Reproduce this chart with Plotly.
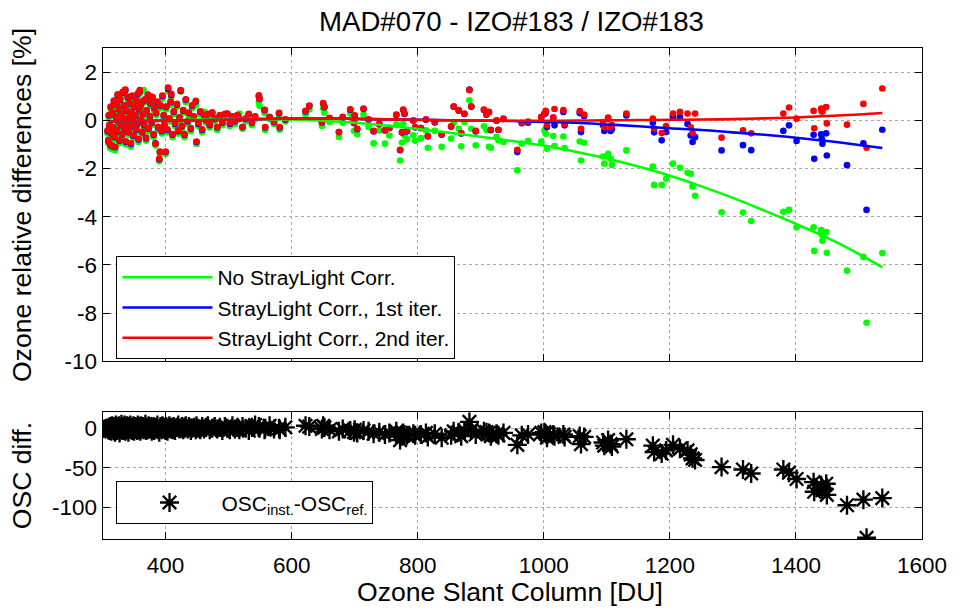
import plotly.graph_objects as go

# ---------------- data ----------------
du_low = [308, 309, 310, 311, 312, 313, 314, 315, 316, 317, 318, 319, 320, 321, 322, 323, 324, 325, 326, 327,
          328, 329, 330, 331, 332, 333, 334, 335, 336, 337, 338, 339, 340, 341, 342, 343, 344, 345, 346, 347,
          348, 349, 350, 352, 353, 354, 355, 356, 357, 358, 359, 360, 361, 363, 364, 365, 366, 368, 369, 370,
          372, 373, 375, 376, 378, 379, 381, 382, 384, 385, 387, 388, 390, 391, 392, 394, 395, 397, 398, 400,
          401, 403, 404, 406, 408, 409, 411, 413, 415, 418, 420, 422, 424, 426, 428, 430, 432, 435, 437, 440,
          442, 445, 448, 449, 452, 455, 458, 461, 464, 467, 470, 474, 478, 482, 486, 490, 494, 498, 502, 506,
          510, 514, 517, 522, 527, 532, 537, 542, 548, 549, 557, 558, 565, 572, 580, 581, 590]
green_low = [-0.55, -0.95, 0.10, -0.30, -1.15, 0.45, -0.65, -1.20, 0.20, -0.40, 0.70, -0.80, -1.25, 0.05, 0.55, -0.55, 0.95, -0.15, 0.35, -0.95,
             0.75, -0.30, 0.15, -0.70, 1.05, -0.05, 0.50, -0.45, 1.15, -1.00, 0.30, -0.20, 0.85, -0.60, 0.00, 0.60, -0.35, -1.10, 0.20, 0.90,
             -0.15, -0.75, 0.45, 0.10, -0.50, 0.70, -0.25, 1.00, -0.90, 0.35, 1.10, -0.10, 0.55, -0.60, 0.15, 1.25, -0.30, 0.75, -0.85, 0.30,
             0.95, -0.45, 0.05, 0.60, -0.20, 0.85, -0.70, 0.40, -1.05, 0.20, 0.65, -0.40, -1.70, -1.40, 0.50, -0.55, 0.90, 0.10, -0.30, -1.40,
             0.45, -0.50, 1.20, -0.05, 0.65, 0.95, -0.70, 0.25, -0.25, 0.55, -0.55, 0.00, 1.20, -0.35, 0.30, -0.70, 0.75, -0.15, 0.20, -0.45,
             0.50, 0.05, 0.62, -0.98, -0.25, 0.25, -0.50, 0.35, -0.10, 0.15, -0.30, 0.20, -0.05, -0.40, 0.10, -0.20, 0.15, 0.20, -0.25, 0.05,
             -0.15, 0.15, 0.28, -0.35, -0.05, 0.15, -0.20, 0.05, 0.76, 0.60, 0.30, -0.40, 0.05, -0.15, 0.20, -0.39, -0.05]
blue_low = [-0.45, -0.85, 0.20, -0.20, -1.02, 0.55, -0.55, -1.08, 0.30, -0.30, 0.80, -0.70, -1.12, 0.15, 0.65, -0.45, 1.05, -0.05, 0.45, -0.85,
            0.85, -0.20, 0.25, -0.60, 1.15, 0.05, 0.60, -0.35, 1.25, -0.90, 0.40, -0.10, 0.95, -0.50, 0.10, 0.70, -0.25, -0.98, 0.30, 1.00,
            -0.05, -0.65, 0.55, 0.20, -0.40, 0.80, -0.15, 1.10, -0.80, 0.45, 1.20, 0.00, 0.65, -0.50, 0.25, 0.80, -0.20, 0.85, -0.75, 0.40,
            1.05, -0.35, 0.15, 0.70, -0.10, 0.95, -0.60, 0.50, -0.95, 0.30, 0.75, -0.30, -1.62, -1.32, 0.60, -0.45, 1.00, 0.20, -0.20, -1.32,
            0.55, -0.40, 1.30, 0.05, 0.75, 1.05, -0.60, 0.35, -0.15, 0.65, -0.45, 0.10, 1.22, -0.25, 0.40, -0.60, 0.85, -0.05, 0.30, -0.35,
            0.60, 0.15, 0.78, -0.90, -0.15, 0.35, -0.40, 0.20, 0.00, 0.25, -0.20, 0.30, 0.05, -0.30, 0.20, -0.10, 0.25, 0.27, -0.15, 0.15,
            -0.05, 0.20, 0.05, -0.28, 0.05, 0.25, -0.10, 0.15, 1.00, 0.88, 0.42, -0.30, 0.12, -0.08, 0.29, -0.30, 0.02]
red_low = [-0.42, -0.82, 0.22, -0.18, -1.00, 0.57, -0.52, -1.05, 0.32, -0.28, 0.82, -0.67, -1.10, 0.17, 0.68, -0.42, 1.08, -0.03, 0.48, -0.82,
           0.88, -0.18, 0.28, -0.57, 1.18, 0.08, 0.62, -0.32, 1.28, -0.87, 0.42, -0.08, 0.98, -0.47, 0.12, 0.72, -0.22, -0.95, 0.33, 1.03,
           -0.02, -0.62, 0.58, 0.22, -0.37, 0.83, -0.12, 1.12, -0.77, 0.48, 1.25, 0.03, 0.67, -0.47, 0.27, 0.82, -0.17, 0.88, -0.72, 0.42,
           1.07, -0.32, 0.18, 0.73, -0.07, 0.97, -0.57, 0.52, -0.97, 0.32, 0.78, -0.27, -1.60, -1.30, 0.62, -0.42, 1.03, 0.22, -0.18, -1.30,
           0.57, -0.37, 1.36, 0.08, 0.78, 1.10, -0.57, 0.37, -0.12, 0.68, -0.42, 0.12, 1.25, -0.22, 0.42, -0.57, 0.87, -0.02, 0.32, -0.32,
           0.62, 0.17, 0.81, -0.88, -0.12, 0.37, -0.37, 0.22, 0.02, 0.27, -0.17, 0.33, 0.07, -0.28, 0.22, -0.07, 0.27, 0.28, -0.12, 0.17,
           -0.03, 0.22, 0.07, -0.28, 0.08, 0.27, -0.08, 0.17, 1.04, 0.90, 0.44, -0.28, 0.14, -0.06, 0.31, -0.28, 0.04]
osc_low = [0, -2, 1, -3, 2, 0, -4, 3, -1, 2, -2, 1, -5, 4, 0, -3, 2, -1, 3, -6,
           1, -2, 5, 0, -3, 2, -1, 4, -4, 1, -2, 3, 0, -5, 2, -1, 4, -2, 1, -3,
           0, 3, -4, 2, -1, 1, -3, 4, 0, -2, 1, -4, 3, -1, 2, -2, 0, 5, -3, 1,
           -2, 3, -1, 2, -4, 0, 2, -3, 1, -1, 4, -2, -5, 0, 2, -2, 3, -1, 1, -3,
           2, -4, 0, 3, -1, 1, -2, 2, -3, 1, 4, -1, 0, 2, -2, 1, 3, -1, 2, -3,
           0, 1, -2, 3, 0, -2, 2, -1, 1, 3, -2, 0, 2, -1, 1, -3, 2, 0, -2, 3,
           -1, 1, -2, 2, 0, -3, 1, 4, 2, 0, -2, 0, 3, -1, 0, -2, 1]

du_mid = [622, 628, 648, 650, 652, 660, 675, 681, 693, 699, 700, 704, 714, 722, 730, 739, 748, 755, 766, 772,
          775, 777, 779, 783, 793, 796, 805, 813, 816, 827, 838, 853, 857, 865, 869, 874, 882, 885, 892, 905,
          909, 913, 916, 925, 928, 936, 958, 965, 975]
green_mid = [0.24, 0.45, -0.24, 0.50, 0.31, -0.07, -0.69, -0.10, 0.28, -0.44, 0.00, -0.58, 0.24, -0.28, -0.96, -0.42, -0.97, -0.63, -0.17, -1.67,
             -0.92, -0.14, -0.63, -0.79, -0.62, -0.85, -0.74, -0.42, -1.14, -0.44, -1.10, -0.76, -0.10, -0.35, -1.08, -0.07, 0.83, -0.35, -1.04, -0.25,
             -0.40, -1.10, -1.14, -0.69, -0.83, -0.90, -2.08, -0.97, -0.85]
blue_mid = [0.37, 0.59, -0.09, 0.70, 0.54, 0.08, -0.49, 0.12, 0.44, -0.12, 0.19, -0.37, 0.47, 0.02, -0.46, -0.16, -0.42, -0.33, 0.22, -1.24,
            -0.51, 0.43, 0.26, -0.46, -0.02, -0.30, -0.33, 0.02, -0.67, -0.09, -0.60, -0.27, 0.56, 0.40, -0.55, 0.26, 1.28, 0.56, -0.46, 0.43,
            0.23, 0.33, -0.41, -0.02, -0.40, 0.05, -1.32, -0.12, -0.10]
red_mid = [0.39, 0.61, -0.07, 0.72, 0.56, 0.10, -0.49, 0.14, 0.46, -0.10, 0.21, -0.35, 0.49, 0.04, -0.44, -0.14, -0.40, -0.31, 0.24, -1.22,
           -0.49, 0.45, 0.28, -0.44, 0.00, -0.28, -0.31, 0.04, -0.65, -0.07, -0.58, -0.25, 0.58, 0.42, -0.53, 0.28, 1.25, 0.58, -0.44, 0.45,
           0.25, 0.35, -0.39, 0.00, -0.39, 0.07, -1.22, -0.10, -0.05]
osc_mid = [3, 2, -1, 3, 1, -2, -4, -1, -3, -5, -2, -6, -3, -4, -7, -5, -8, -6, -4, -15,
           -10, -6, -8, -9, -7, -9, -8, -6, -11, -7, -12, -9, -4, -5, -10, -3, 8, -2, -8, -4,
           -5, -6, -10, -7, -9, -6, -21, -9, -8]

du_high = [996, 1001, 1003, 1005, 1015, 1017, 1031, 1033, 1057, 1059, 1064, 1094, 1096, 1102, 1106, 1108, 1131, 1173, 1175, 1187,
           1194, 1205, 1216, 1228, 1233, 1236, 1240, 1282, 1316, 1329, 1380, 1389, 1401, 1428, 1429, 1440, 1441, 1442, 1448, 1449,
           1481, 1507, 1512, 1537]
green_high = [-0.88, -0.42, -0.56, -1.18, -0.65, -1.07, -0.67, -1.15, -0.88, -1.67, -0.93, -1.50, -1.80, -1.39, -1.60, -1.85, -1.25, -1.92, -2.68, -2.68,
              -2.43, -1.80, -1.97, -2.18, -2.22, -2.75, -3.13, -3.82, -3.83, -4.18, -3.80, -3.72, -4.44, -4.44, -5.42, -4.56, -4.75, -5.00, -4.64, -5.50,
              -6.24, -5.67, -8.40, -5.51]
blue_high = [0.12, 0.26, 0.30, -0.28, 0.10, -0.21, 0.35, -0.21, 0.30, -0.49, 0.18, -0.20, -0.44, 0.05, -0.44, -0.36, 0.20, -0.10, -0.50, -0.83,
             -0.49, 0.14, 0.14, -0.15, -0.63, -0.90, -0.70, -1.25, -1.03, -1.24, -0.44, -0.21, -0.86, -0.60, -1.60, -0.58, -0.76, -0.97, -0.54, -1.46,
             -1.86, -0.96, -3.72, -0.39]
red_high = [0.14, 0.28, 0.39, -0.20, 0.12, 0.47, 0.42, -0.15, 0.38, -0.35, 0.24, -0.07, -0.28, 0.11, -0.28, -0.20, 0.28, 0.07, -0.35, -0.53,
            -0.24, 0.28, 0.35, 0.28, -0.29, -0.53, 0.28, -0.72, -0.42, -0.54, 0.28, 0.53, 0.07, 0.39, -0.33, 0.49, 0.37, 0.37, 0.55, -0.13,
            -0.18, 0.68, -1.14, 1.32]
osc_high = [-6, -5, -7, -12, -8, -10, -8, -11, -10, -20, -11, -18, -22, -15, -20, -23, -14, -22, -30, -32,
            -28, -21, -26, -28, -33, -38, -40, -49, -52, -57, -52, -56, -64, -68, -80, -72, -75, -78, -70, -84,
            -97, -90, -138, -88]

# fitted curves
fit_du = [310, 350, 400, 450, 500, 550, 600, 650, 700, 750, 800, 850, 900, 950, 1000, 1050, 1100, 1150, 1200, 1250,
          1300, 1350, 1400, 1450, 1500, 1537]
fit_green = [-0.05, -0.03, 0.00, 0.03, 0.05, 0.05, 0.03, -0.02, -0.10, -0.22, -0.36, -0.52, -0.68, -0.86, -1.05, -1.30, -1.58, -1.92, -2.30, -2.74,
             -3.22, -3.75, -4.30, -4.88, -5.55, -6.10]
fit_blue = [-0.05, -0.03, -0.02, 0.00, 0.02, 0.05, 0.08, 0.08, 0.06, 0.04, 0.02, 0.00, -0.01, -0.03, -0.07, -0.10, -0.17, -0.25, -0.33, -0.40,
            -0.50, -0.60, -0.72, -0.86, -1.02, -1.15]
fit_red = [-0.05, -0.03, -0.02, 0.00, 0.02, 0.05, 0.08, 0.08, 0.06, 0.04, 0.02, 0.00, -0.01, -0.02, -0.02, -0.01, 0.00, 0.01, 0.02, 0.03,
           0.05, 0.08, 0.12, 0.18, 0.24, 0.30]

x_ticks = [400, 600, 800, 1000, 1200, 1400, 1600]
x_ticklabels = ["400", "600", "800", "1000", "1200", "1400", "1600"]
y1_ticks = [2, 0, -2, -4, -6, -8, -10]
y1_ticklabels = ["2", "0", "-2", "-4", "-6", "-8", "-10"]
y2_ticks = [0, -50, -100]
y2_ticklabels = ["0", "-50", "-100"]

series_names = ["No StrayLight Corr.", "StrayLight Corr., 1st iter.", "StrayLight Corr., 2nd iter."]
osc_name = "OSC<sub>inst.</sub>-OSC<sub>ref.</sub>"
title_text = "MAD#070 - IZO#183 / IZO#183"

# ---------------- figure ----------------
du = du_low + du_mid + du_high
green = green_low + green_mid + green_high
blue = blue_low + blue_mid + blue_high
red = red_low + red_mid + red_high
osc = osc_low + osc_mid + osc_high

GREEN, BLUE, RED = "#00FF00", "#0000FF", "#FF0000"
FONT = "Liberation Sans, Arial, Helvetica, sans-serif"

W, H = 954, 610
SX, SY = 0.978, 0.978  # the page is photographed slightly reduced; compensate


def fx(p):
    return p / (W * SX)


def fy(p):
    return 1 - p / (H * SY)


def sz(v):
    return v / 0.978


fig = go.Figure()
for vals, col in [(green, GREEN), (blue, BLUE), (red, RED)]:
    fig.add_trace(go.Scatter(x=du, y=vals, mode="markers", xaxis="x", yaxis="y",
                             marker=dict(color=col, size=sz(6.5), line=dict(width=0)),
                             showlegend=False, hoverinfo="skip"))
for vals, col, nm in [(fit_green, GREEN, series_names[0]), (fit_blue, BLUE, series_names[1]),
                      (fit_red, RED, series_names[2])]:
    fig.add_trace(go.Scatter(x=fit_du, y=vals, mode="lines", line=dict(color=col, width=sz(2.5), shape="spline"),
                             name=nm, xaxis="x", yaxis="y", legend="legend"))

fig.add_trace(go.Scatter(x=du, y=osc, mode="markers", xaxis="x2", yaxis="y2", name=osc_name,
                         marker=dict(symbol="asterisk-open", size=sz(15.5), color="black",
                                     line=dict(color="black", width=sz(2.3))),
                         legend="legend2"))

axis_common = dict(showline=True, linecolor="black", linewidth=1, mirror="ticks", ticks="inside",
                   ticklen=sz(7), tickcolor="black", showgrid=True, gridcolor="#a8a8a8", griddash="dot",
                   gridwidth=1, zeroline=False, tickfont=dict(size=sz(22), color="black", family=FONT))

fig.update_layout(
    width=W, height=H, margin=dict(l=0, r=0, t=0, b=0),
    paper_bgcolor="white", plot_bgcolor="white",
    font=dict(family=FONT, color="black", size=sz(20)),
    xaxis=dict(domain=[fx(103), fx(926)], range=[300, 1600], anchor="y", tickvals=x_ticks,
               showticklabels=False, **axis_common),
    yaxis=dict(domain=[fy(361), fy(48)], range=[-10, 3], anchor="x",
               tickvals=y1_ticks, ticktext=y1_ticklabels, **axis_common),
    xaxis2=dict(domain=[fx(103), fx(926)], range=[300, 1600], anchor="y2", tickvals=x_ticks,
                ticktext=x_ticklabels, ticklabelstandoff=6, ticklabeloverflow="allow", **axis_common),
    yaxis2=dict(domain=[fy(539), fy(412)], range=[-140, 20], anchor="x2",
                tickvals=y2_ticks, ticktext=y2_ticklabels, **axis_common),
    legend=dict(x=fx(117), y=fy(256), xanchor="left", yanchor="top", bgcolor="white",
                bordercolor="black", borderwidth=1, font=dict(size=sz(20.5), family=FONT),
                itemwidth=sz(88), tracegroupgap=0),
    legend2=dict(x=fx(117), y=fy(481), xanchor="left", yanchor="top", bgcolor="white",
                 bordercolor="black", borderwidth=1, font=dict(size=sz(20.5), family=FONT),
                 itemwidth=sz(92)),
    showlegend=True,
    annotations=[
        dict(text=title_text, x=fx(514), y=fy(21), xref="paper", yref="paper", showarrow=False,
             xanchor="center", yanchor="middle", font=dict(size=sz(27), family=FONT)),
        dict(text="Ozone relative differences [%]", x=fx(22), y=fy(205), xref="paper", yref="paper",
             showarrow=False, textangle=-90, xanchor="center", yanchor="middle", font=dict(size=sz(26))),
        dict(text="OSC diff.", x=fx(22), y=fy(475), xref="paper", yref="paper",
             showarrow=False, textangle=-90, xanchor="center", yanchor="middle", font=dict(size=sz(26))),
        dict(text="Ozone Slant Column [DU]", x=fx(512), y=fy(592), xref="paper", yref="paper",
             showarrow=False, xanchor="center", yanchor="middle", font=dict(size=sz(26))),
    ],
)

fig.write_html("out.html")
